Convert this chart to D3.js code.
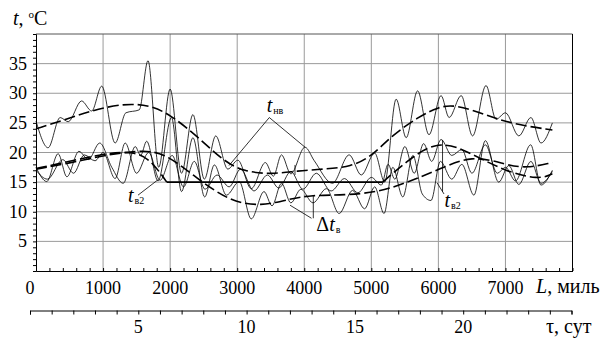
<!DOCTYPE html>
<html>
<head>
<meta charset="utf-8">
<script src="https://cdn.jsdelivr.net/npm/d3@7"></script>
<style>
  body { margin: 0; background: #fff; }
  svg { display: block; }
  svg text { font-family: "Liberation Serif", "DejaVu Serif", "Nimbus Roman", "Times New Roman", serif; }
</style>
</head>
<body>
<div id="chart"></div>
<script>
// axis ticks
const yTicks = [5, 10, 15, 20, 25, 30, 35];
const xTicks = [0, 1000, 2000, 3000, 4000, 5000, 6000, 7000];
const tauTicks = [5, 10, 15, 20];

const tnvL = [0,180,360,480,680,830,980,1180,1340,1540,1670,1830,2000,2170,2340,2510,2680,2860,3010,3210,3420,3540,3660,3800,4010,4150,4420,4670,4850,5050,5200,5370,5520,5690,5860,6040,6160,6340,6510,6710,6860,7000,7200,7380,7530,7700];
const tnvT = [25.3,20.8,25.9,25.2,28.7,27.0,31.2,21.6,26.7,27.2,35.5,17.5,30.7,16.5,26.4,15.5,22.8,17.2,18.7,13.9,18.3,16.0,19.6,16.4,20.9,18.6,14.8,19.6,16.2,19.9,15.0,29.0,22.5,30.4,23.0,29.6,25.9,29.6,22.8,31.3,25.6,26.7,22.8,25.9,21.6,25.0];

// t_в measured (thin, lower)
const tvL = [0,160,330,460,640,780,950,1130,1300,1480,1560,1650,1820,2020,2170,2340,2515,2660,2840,3030,3210,3400,3520,3660,3800,3950,4130,4330,4520,4720,4900,5050,5190,5320,5470,5620,5760,5890,6030,6200,6350,6530,6700,6900,7050,7200,7380,7530,7700];
const tvT = [17.5,15.1,19.8,15.9,20.2,18.8,21.6,17.5,14.8,21.0,19.5,21.9,15.2,25.9,13.4,22.5,12.5,17.9,12.8,15.1,8.8,13.4,11.0,14.8,11.5,13.8,11.5,13.9,9.7,13.6,10.5,14.2,9.7,17.5,12.5,19.5,13.0,11.9,18.5,15.5,18.0,12.8,22.0,15.0,17.8,14.6,18.5,14.8,16.8];

// t_в2 measured (thin, middle)
const tv2mL = [0,170,400,560,720,880,1000,1180,1330,1500,1680,1850,2030,2200,2360,2520,2700,2880,3050,3250,3450,3620,3800,3980,4180,4400,4600,4800,5000,5150,5250,5350,5500,5640,5780,5900,6040,6200,6350,6500,6700,6880,7000,7150,7376,7530,7700];
const tv2mT = [17.0,15.5,18.8,16.5,19.6,18.6,20.0,15.6,21.6,16.5,20.0,15.3,19.5,14.2,18.5,13.8,16.2,14.2,17.2,13.5,16.2,14.0,16.8,13.8,16.5,13.5,15.6,13.2,15.8,14.5,18.0,15.5,21.0,16.5,21.5,18.5,22.2,19.5,20.5,16.5,21.3,16.5,17.5,15.2,21.3,14.5,17.0];

// trend of t_нв (dashed, top)
const nvTrendL = [0,400,800,1300,1700,2000,2400,2800,3100,3500,3900,4300,4700,5000,5300,5700,6000,6250,6700,7100,7700];
const nvTrendT = [24.0,25.4,27.0,28.3,28.0,26.4,22.8,18.5,16.8,16.3,16.9,17.2,17.6,19.3,22.8,26.0,27.7,28.1,26.4,24.8,23.8];

// trend of t_в (dashed, lower)
const vTrendL = [0,500,1000,1500,1900,2400,2900,3350,3800,4100,4600,5100,5500,6000,6500,7000,7300,7700];
const vTrendT = [17.2,18.2,19.5,20.3,20.2,15.6,11.7,10.9,12.2,12.8,12.8,13.3,14.8,17.1,19.6,18.0,17.3,18.3];

// trend of t_в2 (dashed ends, solid flat part)
const v2LeftL = [0,500,1000,1500,1750,1950];
const v2LeftT = [17.3,18.5,19.8,20.3,18.2,15.0];
const v2FlatL = [1950,5170];
const v2FlatT = [15.0,15.0];
const v2RightL = [5170,5500,6000,6500,7000,7500,7700];
const v2RightT = [15.0,18.3,22.3,19.8,16.8,15.4,16.4];

// leader lines (L, t)
const leaders = [
  [[2878,17.8],[3479,25.9],[4011,20.9]],
  [[3862,16.2],[3862,17.9]],
  [[3788,11.1],[4108,8.9]],
  [[4135,12.8],[4135,8.9]],
  [[1521,12.8],[1819,15.4]],
  [[6062,22.1],[6062,13.4]],
  [[6084,13.0],[5980,14.9]]
];
// labels: [L, t, main, subscript]
const labels = [
  [3440, 26.8, "t", "нв"],
  [1372, 11.6, "t", "в2"],
  [6090, 10.8, "t", "в2"],
  [4180, 6.7, "Δt", "в"]
];

const W = 615, H = 338;
const svg = d3.select("#chart").append("svg").attr("width", W).attr("height", H);

const x = d3.scaleLinear().domain([0, 8000]).range([36, 572.5]);
const y = d3.scaleLinear().domain([0, 40]).range([271, 34]);
const tau = d3.scaleLinear().domain([0, 25]).range([30, 571.5]);

// grid
const grid = svg.append("g").attr("stroke", "#9a9a9a").attr("stroke-width", 1);
grid.selectAll("line.h").data(yTicks).join("line")
  .attr("x1", x(0)).attr("x2", x(8000))
  .attr("y1", d => y(d)).attr("y2", d => y(d));
grid.selectAll("line.v").data(xTicks.slice(1)).join("line")
  .attr("y1", y(0)).attr("y2", y(40))
  .attr("x1", d => x(d)).attr("x2", d => x(d));

// frame
svg.append("line").attr("x1", x(0)).attr("x2", x(8000)).attr("y1", y(40)).attr("y2", y(40))
  .attr("stroke", "#555").attr("stroke-width", 1);
svg.append("line").attr("x1", x(8000)).attr("x2", x(8000)).attr("y1", y(40)).attr("y2", y(0))
  .attr("stroke", "#000").attr("stroke-width", 1);

// y axis
const yAxis = svg.append("g").attr("transform", `translate(${x(0)},0)`)
  .call(d3.axisLeft(y).ticks(40).tickSize(3).tickFormat(""));
yAxis.select(".domain").attr("stroke", "#000");

const txt = svg.append("g").attr("fill", "#000");
txt.selectAll("text.yl").data(yTicks).join("text")
  .attr("x", 27).attr("y", d => y(d) + 6)
  .attr("text-anchor", "end").attr("font-size", 18).text(d => d);

// x axis
const xAxis = svg.append("g").attr("transform", `translate(0,${y(0)})`)
  .call(d3.axisTop(x).ticks(40).tickSize(3).tickFormat("").tickSizeOuter(0));
xAxis.select(".domain").attr("stroke", "#000");
txt.selectAll("text.xl").data(xTicks).join("text")
  .attr("x", d => x(d) - (d === 0 ? 6 : 0)).attr("y", 294)
  .attr("text-anchor", "middle").attr("font-size", 18).text(d => d);

// tau axis
const tauAxis = svg.append("g").attr("transform", "translate(0,310.5)")
  .call(d3.axisBottom(tau).ticks(25).tickSize(4).tickFormat("").tickSizeOuter(4));
tauAxis.select(".domain").attr("stroke", "#000");
txt.selectAll("text.tl").data(tauTicks).join("text")
  .attr("x", d => tau(d)).attr("y", 333)
  .attr("text-anchor", "middle").attr("font-size", 18).text(d => d);

// titles
const tt = txt.append("text").attr("x", 13).attr("y", 25).attr("font-size", 20);
tt.append("tspan").attr("font-style", "italic").text("t");
tt.append("tspan").text(", ");
tt.append("tspan").attr("font-size", 11).attr("dy", -7).text("o");
tt.append("tspan").attr("dy", 7).text("C");

const lt = txt.append("text").attr("x", 536).attr("y", 293).attr("font-size", 20);
lt.append("tspan").attr("font-style", "italic").text("L");
lt.append("tspan").text(", миль");

txt.append("text").attr("x", 546).attr("y", 333).attr("font-size", 20).text("τ, сут");

// curves
const toPts = (L, T) => L.map((d, i) => [d, T[i]]);
const thin = d3.line().x(d => x(d[0])).y(d => y(d[1])).curve(d3.curveMonotoneX);
const smooth = d3.line().x(d => x(d[0])).y(d => y(d[1])).curve(d3.curveBasis);
const straight = d3.line().x(d => x(d[0])).y(d => y(d[1]));

const plot = svg.append("g").attr("fill", "none").attr("stroke", "#000");

[[tnvL, tnvT], [tvL, tvT], [tv2mL, tv2mT]].forEach(([L, T]) => {
  plot.append("path").attr("d", thin(toPts(L, T))).attr("stroke-width", 0.8);
});

[[nvTrendL, nvTrendT], [vTrendL, vTrendT], [v2LeftL, v2LeftT], [v2RightL, v2RightT]].forEach(([L, T]) => {
  plot.append("path").attr("d", smooth(toPts(L, T)))
    .attr("stroke-width", 1.6).attr("stroke-dasharray", "11,4");
});
plot.append("path").attr("d", straight(toPts(v2FlatL, v2FlatT))).attr("stroke-width", 1.6);

// leaders
plot.selectAll("path.leader").data(leaders).join("path")
  .attr("class", "leader").attr("d", straight).attr("stroke-width", 0.8);

// labels
labels.forEach(([L, T, m, s]) => {
  const t = txt.append("text").attr("x", x(L)).attr("y", y(T)).attr("font-size", 20);
  if (m.startsWith("Δ")) {
    t.append("tspan").text("Δ");
    t.append("tspan").attr("font-style", "italic").text("t");
  } else {
    t.append("tspan").attr("font-style", "italic").text(m);
  }
  t.append("tspan").attr("font-size", 10).attr("dy", 2).attr("dx", 1).text(s);
});
</script>
</body>
</html>
